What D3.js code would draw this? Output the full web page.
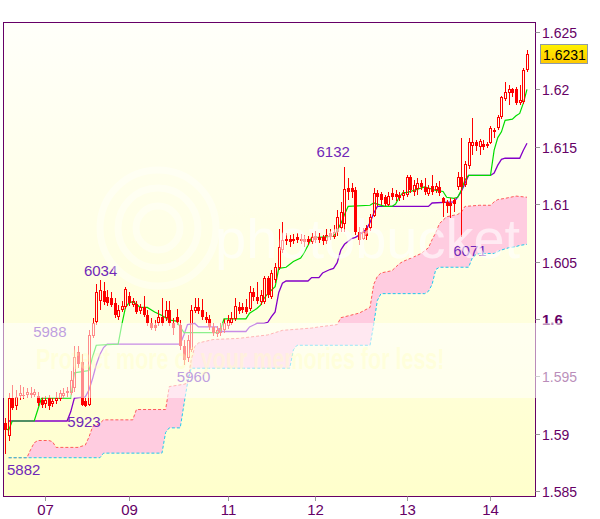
<!DOCTYPE html>
<html><head><meta charset="utf-8">
<script src="https://cdn.jsdelivr.net/npm/d3@7"></script>
<style>body{margin:0;background:#fff}svg{display:block}</style>
</head><body>
<svg id="c" width="600" height="519"></svg>
<script>
// ---- data (prices in pips: 1.xxxx) ----
const openPips = [
5909,5898,5931,5924,5933,5934,5934,5935,5934,5933,
5929,5926,5931,5926,5928,5930,5933,5935,5935,5940,
5971,5962,5928,5925,5985,5997,6016,6024,6019,6018,
6014,6002,6008,6010,6020,6012,6013,6007,6010,6003,
5996,5995,5996,6002,6001,6008,5996,6002,5995,5976,
5966,5973,6007,6010,6008,6002,6000,5993,5987,5988,
5990,5994,5996,6000,6010,6010,6010,6009,6023,6019,
6015,6015,6036,6019,6034,6044,6060,6070,6070,6070,
6071,6070,6070,6070,6067,6072,6071,6071,6068,6075,
6071,6076,6079,6083,6114,6114,6112,6076,6070,6079,
6079,6090,6110,6109,6106,6099,6110,6109,6108,6107,
6108,6124,6111,6113,6118,6115,6109,6116,6112,6115,
6105,6102,6101,6104,6115,6124,6117,6133,6151,6154,
6150,6152,6152,6153,6165,6166,6176,6192,6197,6200,
6200,6188,6189,6217];
const closePips = [
5903,5931,5922,5932,5935,5933,5936,5934,5936,5927,
5925,5929,5924,5928,5931,5935,5935,5937,5947,5967,
5961,5925,5924,5986,5996,6023,6025,6015,6014,6012,
6003,6008,6011,6026,6014,6016,6006,6010,6003,5996,
5992,5992,6002,5996,6008,5996,5992,5997,5976,5964,
5982,6008,6010,6007,6002,5999,5993,5988,5990,5992,
5996,5999,6001,6011,6007,6008,6006,6023,6019,6016,
6021,6036,6021,6040,6045,6063,6069,6068,6067,6068,
6069,6068,6067,6067,6071,6069,6069,6068,6073,6071,
6076,6089,6093,6113,6111,6111,6076,6069,6076,6072,
6089,6110,6106,6104,6100,6107,6106,6106,6105,6110,
6124,6112,6117,6118,6115,6111,6114,6111,6116,6110,
6101,6098,6098,6100,6124,6115,6135,6154,6154,6151,
6155,6150,6151,6166,6163,6176,6193,6198,6200,6197,
6188,6191,6217,6231];
const highPips = [
5914,5935,5942,5938,5942,5941,5940,5941,5939,5936,
5932,5933,5934,5931,5936,5938,5940,5941,5955,5976,
5976,5969,5931,5990,6001,6030,6034,6032,6025,6023,
6018,6012,6016,6028,6023,6018,6016,6013,6020,6008,
6001,5999,6008,6018,6016,6016,6001,6009,5999,5982,
5986,6012,6018,6018,6017,6006,6003,5996,5994,5996,
6000,6003,6006,6018,6015,6014,6017,6029,6027,6032,
6025,6037,6037,6043,6049,6078,6084,6075,6073,6074,
6075,6074,6073,6072,6075,6077,6075,6073,6078,6078,
6082,6095,6102,6132,6123,6118,6115,6080,6079,6082,
6091,6114,6112,6111,6108,6111,6114,6112,6111,6112,
6125,6125,6121,6123,6121,6123,6117,6125,6118,6120,
6106,6104,6105,6105,6128,6158,6138,6158,6175,6156,
6157,6156,6154,6168,6166,6178,6194,6206,6204,6201,
6202,6204,6219,6234];
const lowPips = [
5882,5894,5921,5921,5929,5930,5931,5931,5932,5924,
5922,5922,5921,5923,5926,5928,5931,5932,5934,5936,
5957,5924,5923,5924,5983,5995,6008,6012,6011,6010,
6001,5999,6006,6009,6011,6010,6004,6004,6002,5994,
5990,5989,5994,5994,5998,5994,5986,5995,5973,5960,
5962,5971,6005,6004,5999,5996,5990,5985,5984,5985,
5988,5991,5995,5998,6004,6005,6004,6007,6016,6013,
6012,6013,6018,6017,6031,6043,6057,6064,6063,6065,
6066,6065,6063,6064,6065,6066,6066,6064,6065,6069,
6070,6072,6076,6076,6104,6105,6073,6064,6069,6069,
6077,6089,6098,6099,6098,6098,6104,6103,6103,6104,
6106,6110,6107,6108,6112,6108,6107,6108,6110,6107,
6089,6092,6088,6093,6112,6071,6115,6131,6143,6146,
6143,6147,6149,6152,6158,6165,6174,6190,6186,6193,
6186,6186,6187,6215];

const tenkanIdx = [0,1,2,8,9,10,18,19,23,24,25,31,32,33,34,35,36,37,39,40,41,43,44,45,47,48,49,58,59,60,66,67,69,70,71,72,74,75,77,79,81,82,83,84,86,90,91,92,93,94,100,101,104,106,107,108,109,110,112,115,118,120,121,123,124,125,126,127,133,134,135,136,137,139,140,141,142,143];
const tenkanPips = [5905,5903,5911,5911,5921,5931,5931,5953,5955,5967,5977,5978,5995,6010,6014,6015,6013,6010,6010,6008,6006,6003,6001,5999,5998,5993,5988,5988,5990,6000,6000,6005,6009,6012,6018,6022,6028,6044,6045,6050,6053,6058,6064,6071,6071,6072,6077,6083,6091,6098,6099,6101,6098,6098,6100,6106,6110,6110,6112,6115,6112,6111,6106,6105,6106,6112,6121,6125,6125,6147,6158,6163,6173,6174,6177,6179,6188,6200];

const kijunIdx = [1,17,18,19,22,23,24,25,26,27,28,48,49,50,52,53,58,59,66,67,69,71,72,73,74,75,76,77,83,84,86,87,89,90,91,92,93,95,96,97,99,100,101,102,116,117,123,124,125,126,127,133,134,135,136,137,141,142,143];
const kijunPips = [5911,5911,5919,5931,5932,5938,5948,5960,5969,5975,5978,5978,5986,5995,5996,5993,5993,5989,5989,5993,5996,5996,5997,6002,6006,6023,6031,6033,6033,6036,6036,6040,6043,6044,6049,6060,6065,6070,6071,6073,6078,6084,6092,6098,6098,6101,6102,6106,6111,6118,6125,6125,6127,6134,6139,6140,6140,6147,6153];

const cloudTopIdx = [1,6,7,8,9,12,13,14,20,22,23,24,26,27,35,36,44,45,49,50,51,52,53,57,64,72,74,76,84,86,91,92,97,100,101,102,103,106,108,109,112,114,116,117,118,119,121,124,125,126,130,133,134,135,137,140,143];
const cloudTopPips = [5879,5879,5886,5892,5894,5894,5893,5888,5888,5890,5897,5906,5909,5912,5912,5921,5921,5941,5943,5944,5964,5976,5979,5982,5983,5986,5988,5990,5992,5993,5995,6001,6005,6010,6030,6037,6040,6042,6048,6050,6054,6057,6062,6069,6075,6083,6089,6091,6093,6098,6099,6099,6102,6104,6105,6107,6106];

const cloudBotIdx = [1,26,27,43,44,45,48,49,50,51,78,79,80,100,101,102,103,115,116,117,118,119,127,128,129,130,134,136,138,140,141,143];
const cloudBotPips = [5879,5879,5883,5883,5901,5905,5905,5925,5944,5957,5957,5973,5977,5977,5995,6016,6022,6022,6024,6030,6043,6045,6045,6053,6056,6057,6057,6060,6062,6063,6064,6065];

const dayTickIdx = [11,34,61,85,110,133];
const dayLabels = ["07","09","11","12","13","14"];
const yTicks = [1.585,1.59,1.595,1.6,1.605,1.61,1.615,1.62,1.625];
const yTickLabels = ["1.585","1.59","1.595","1.6","1.605","1.61","1.615","1.62","1.625"];
const lastPriceLabel = "1.6231";

const noteText = ["5882","5923","5988","6034","5960","6132","6071"];
const noteIdx  = [0,22,8,26,49,93,125];
const notePips = [5882,5923,5988,6034,5960,6132,6071];

// ---- layout / style ----
const noteDx = [2,-18,-1,-16,-7,-28,-8];
const noteDy = [21,20,4,-4,17,-10,19];

(function draw(){
const N = openPips.length;
const P = v => 1 + v/10000;
const svg = d3.select("#c");
const x = d3.scaleLinear().domain([0, N-1]).range([5, 527]);
const y = d3.scaleLinear().domain([1.585, 1.625]).range([491, 32]);
const FL = 3.5, FR = 535.5, FT = 22.5, FB = 496.5;
const font = "'Liberation Sans', Arial, sans-serif";

const defs = svg.append("defs");
const bg = defs.append("linearGradient").attr("id","bg").attr("x1",0).attr("y1",0).attr("x2",0).attr("y2",1);
bg.append("stop").attr("offset","0%").attr("stop-color","#fffffa");
bg.append("stop").attr("offset","100%").attr("stop-color","#ffffcc");
const gb = defs.append("linearGradient").attr("id","pbox").attr("x1",0).attr("y1",0).attr("x2",0).attr("y2",1);
gb.append("stop").attr("offset","0%").attr("stop-color","#fff200");
gb.append("stop").attr("offset","100%").attr("stop-color","#ffc800");
defs.append("clipPath").attr("id","clip").append("rect")
  .attr("x",FL).attr("y",FT).attr("width",FR-FL).attr("height",FB-FT);

svg.append("rect").attr("x",FL).attr("y",FT).attr("width",FR-FL).attr("height",FB-FT).attr("fill","url(#bg)");

const plot = svg.append("g").attr("clip-path","url(#clip)");

// cloud
const cTop = cloudTopIdx.map((i,k)=>[x(i), y(P(cloudTopPips[k]))]);
const cBot = cloudBotIdx.map((i,k)=>[x(i), y(P(cloudBotPips[k]))]);
const line = d3.line();
plot.append("path").attr("d", line(cTop.concat(cBot.slice().reverse())) + "Z")
  .attr("fill","#ffcce0").attr("stroke","none");
plot.append("path").attr("d", line(cTop)).attr("fill","none")
  .attr("stroke","#ff5a5a").attr("stroke-width",1).attr("stroke-dasharray","3,2");
plot.append("path").attr("d", line(cBot)).attr("fill","none")
  .attr("stroke","#1ccbee").attr("stroke-width",1).attr("stroke-dasharray","3,2");

// kijun & tenkan
plot.append("path").attr("d", line(kijunIdx.map((i,k)=>[x(i), y(P(kijunPips[k]))])))
  .attr("fill","none").attr("stroke","#8400c8").attr("stroke-width",1.3);
plot.append("path").attr("d", line(tenkanIdx.map((i,k)=>[x(i), y(P(tenkanPips[k]))])))
  .attr("fill","none").attr("stroke","#00dd00").attr("stroke-width",1.2);

// candles
const cg = plot.append("g");
d3.range(N).forEach(i => {
  const o = P(openPips[i]), c = P(closePips[i]), h = P(highPips[i]), l = P(lowPips[i]);
  const cx = Math.round(x(i));
  const yt = Math.round(y(Math.max(o,c))), yb = Math.round(y(Math.min(o,c)));
  const yh = Math.round(y(h)), yl = Math.round(y(l));
  const up = c >= o;
  if (yh < yt) cg.append("line").attr("x1",cx+0.5).attr("x2",cx+0.5).attr("y1",yh).attr("y2",yt).attr("stroke","#ff0000");
  if (yl > yb) cg.append("line").attr("x1",cx+0.5).attr("x2",cx+0.5).attr("y1",yb).attr("y2",yl).attr("stroke","#ff0000");
  if (up) {
    cg.append("rect").attr("x",cx-0.5).attr("y",yt+0.5).attr("width",2).attr("height",Math.max(1,yb-yt-1))
      .attr("fill","none").attr("stroke","#ff0000").attr("stroke-width",1);
  } else {
    cg.append("rect").attr("x",cx-1).attr("y",yt).attr("width",3).attr("height",Math.max(1,yb-yt))
      .attr("fill","#ff0000");
  }
});

// annotations
noteText.forEach((t,k) => {
  plot.append("text").attr("x", x(noteIdx[k]) + noteDx[k]).attr("y", y(P(notePips[k])) + noteDy[k])
    .attr("font-family",font).attr("font-size",15).attr("fill","#7028b8").text(t);
});

// frame
svg.append("rect").attr("x",FL).attr("y",FT).attr("width",FR-FL).attr("height",FB-FT)
  .attr("fill","none").attr("stroke","#660066").attr("stroke-width",1);

// y axis (right)
yTicks.forEach((t,k) => {
  const yy = Math.round(y(t)) + 0.5;
  svg.append("line").attr("x1",FR).attr("x2",540).attr("y1",yy).attr("y2",yy).attr("stroke","#999");
  const bold = yTickLabels[k] === "1.6";
  svg.append("text").attr("x",542).attr("y",yy+5).attr("font-family",font)
    .attr("font-size", bold ? 15 : 14).attr("font-weight", bold ? "bold" : "normal")
    .attr("fill","#660066").text(yTickLabels[k]);
});

// x axis
dayTickIdx.forEach((i,k) => {
  const xx = Math.round(x(i)) + 0.5;
  svg.append("line").attr("x1",xx).attr("x2",xx).attr("y1",FB).attr("y2",501).attr("stroke","#999");
  svg.append("text").attr("x",xx).attr("y",515).attr("text-anchor","middle").attr("font-family",font)
    .attr("font-size",15).attr("fill","#660066").text(dayLabels[k]);
});

// last price box
const lp = P(closePips[N-1]);
const by = Math.round(y(lp));
svg.append("rect").attr("x",540.5).attr("y",by-9.5).attr("width",47).attr("height",19)
  .attr("fill","url(#pbox)").attr("stroke","#8e9aa8").attr("stroke-width",1);
svg.append("text").attr("x",543).attr("y",by+5.5).attr("font-family",font).attr("font-size",14)
  .attr("fill","#000").text(lastPriceLabel);

// watermark
const wm = svg.append("g").attr("pointer-events","none");
const wmc = wm.append("g").attr("clip-path","url(#clip)");
[22,40,58].forEach(r => {
  wmc.append("circle").attr("cx",158).attr("cy",228).attr("r",r)
    .attr("fill","none").attr("stroke","#fff").attr("stroke-width",7).attr("opacity",0.4);
});
wmc.append("text").attr("x",215).attr("y",258).attr("font-family",font).attr("font-size",56)
  .attr("fill","#fff").attr("opacity",0.6).text("photobucket");
wm.append("rect").attr("x",0).attr("y",323).attr("width",600).attr("height",75)
  .attr("fill","#fff").attr("opacity",0.55);
wmc.append("text").attr("transform","translate(36,369) scale(1,1.35)")
  .attr("font-family",font).attr("font-size",21.5).attr("font-weight","bold")
  .attr("fill","#ffff66").attr("opacity",0.35).text("Protect more of your memories for less!");
})();
</script>
</body></html>
